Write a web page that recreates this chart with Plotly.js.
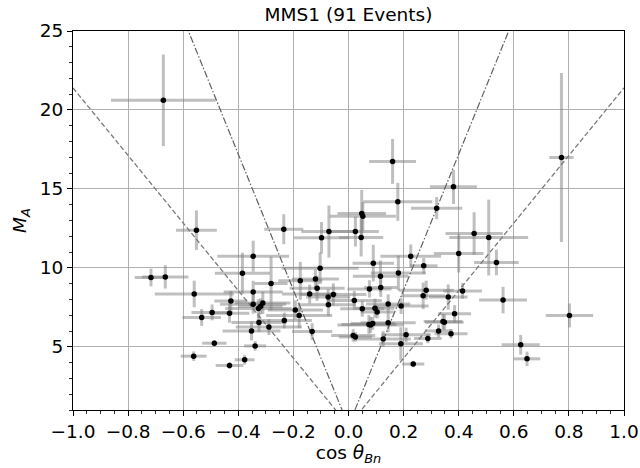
<!DOCTYPE html>
<html>
<head>
<meta charset="utf-8">
<script src="https://cdn.plot.ly/plotly-3.0.1.min.js"></script>
<style>html,body{margin:0;padding:0;background:#fff;}#chart{width:640px;height:468px;}</style>
</head>
<body>
<div id="chart"></div>
<script>
// cos(theta_Bn) of each event
const cosTheta = [-0.672,-0.717,-0.665,-0.562,-0.560,-0.552,-0.533,-0.495,-0.487,-0.432,
  -0.432,-0.427,-0.385,-0.377,-0.352,-0.346,-0.346,-0.346,-0.339,-0.327,
  -0.325,-0.319,-0.311,-0.289,-0.281,-0.235,-0.233,-0.193,-0.179,-0.175,
  -0.141,-0.132,-0.120,-0.114,-0.103,-0.098,-0.074,-0.073,-0.071,-0.055,
  0.017,0.021,0.025,0.025,0.046,0.048,0.050,0.052,0.074,0.076,
  0.080,0.088,0.090,0.096,0.104,0.116,0.117,0.126,0.144,0.144,
  0.160,0.179,0.181,0.190,0.191,0.209,0.226,0.235,0.271,0.273,
  0.282,0.288,0.320,0.327,0.343,0.348,0.362,0.372,0.381,0.385,
  0.400,0.414,0.456,0.509,0.537,0.561,0.625,0.648,0.773,0.802];
// Alfven Mach number of each event
const machA = [20.61,9.39,9.43,4.41,8.35,12.39,6.86,7.18,5.23,7.13,
  3.82,7.91,9.66,4.18,6.01,10.74,8.48,7.70,5.06,7.42,
  6.54,7.57,7.78,6.25,9.01,12.45,6.67,7.34,6.99,9.18,
  8.34,5.97,9.30,8.71,9.98,11.90,8.16,7.66,12.30,8.32,
  5.72,7.94,5.63,12.30,11.92,13.44,7.41,13.27,6.42,8.67,
  6.39,6.48,10.30,7.45,7.20,9.47,8.76,5.49,7.72,6.52,
  16.74,14.18,9.68,5.19,7.58,5.76,10.74,3.91,8.23,10.13,
  8.59,5.53,13.78,6.01,6.60,6.56,8.15,5.83,15.13,7.09,
  10.91,8.54,12.18,11.92,10.34,7.96,5.13,4.24,16.99,6.99];
// uncertainty of cos(theta_Bn)
const cosErr = [0.19,0.059,0.084,0.047,0.143,0.074,0.07,0.075,0.044,0.072,
  0.05,0.06,0.10,0.036,0.105,0.13,0.107,0.12,0.04,0.12,
  0.1,0.08,0.1,0.12,0.06,0.071,0.1,0.1,0.12,0.08,
  0.1,0.073,0.085,0.1,0.14,0.1,0.08,0.1,0.10,0.12,
  0.08,0.1,0.06,0.085,0.08,0.088,0.08,0.12,0.1,0.08,
  0.12,0.08,0.075,0.07,0.06,0.1,0.06,0.1,0.08,0.1,
  0.085,0.125,0.1,0.08,0.1,0.09,0.11,0.04,0.08,0.05,
  0.1,0.05,0.093,0.05,0.07,0.07,0.07,0.06,0.085,0.06,
  0.09,0.07,0.104,0.143,0.081,0.087,0.069,0.048,0.044,0.086];
// uncertainty of M_A
const machErr = [2.9,0.56,0.74,0.3,0.84,1.25,0.53,0.5,0.2,0.6,
  0.2,0.63,1.3,0.3,0.6,0.98,0.7,0.6,0.3,0.6,
  0.6,0.5,0.7,0.5,1.7,0.95,0.5,0.6,0.8,1.2,
  0.6,0.53,0.6,0.8,1.0,1.0,0.5,0.7,1.65,0.7,
  0.4,0.6,0.3,0.95,1.2,1.5,0.5,0.9,0.6,0.55,
  0.5,0.4,1.16,0.6,0.4,1.0,0.6,0.5,0.6,0.6,
  1.42,1.2,1.1,1.05,0.5,0.45,0.74,0.2,0.84,0.5,
  0.6,0.3,0.7,0.4,0.5,0.5,0.8,0.3,1.08,0.55,
  1.2,0.5,1.34,2.4,0.81,0.84,0.62,0.46,5.35,0.76];

// reference lines: M_A = slope * |cos theta|
const refX = [-1, 0, 1];
const dashedSlope = 21.4;
const dashDotSlope = 43;

const font = {family: 'DejaVu Sans', size: 18.5, color: '#000'};

const traces = [
  {x: cosTheta, y: machA, mode: 'markers', type: 'scatter',
   marker: {size: 5.5, color: 'rgba(0,0,0,0)'},
   error_x: {type: 'data', array: cosErr, color: 'rgba(128,128,128,0.5)', thickness: 3, width: 0},
   error_y: {type: 'data', array: machErr, color: 'rgba(128,128,128,0.5)', thickness: 3, width: 0},
   hoverinfo: 'skip'},
  {x: refX, y: refX.map(v => dashedSlope * Math.abs(v)), mode: 'lines', type: 'scatter',
   line: {color: '#7a7a7a', width: 1.3, dash: '5px,2.5px'}},
  {x: refX, y: refX.map(v => dashDotSlope * Math.abs(v)), mode: 'lines', type: 'scatter',
   line: {color: '#606060', width: 1.2, dash: '7px,2px,1.5px,2px'}},
  {x: cosTheta, y: machA, mode: 'markers', type: 'scatter',
   marker: {size: 5.5, color: '#000'}}
];

const layout = {
  width: 640, height: 468,
  margin: {l: 72.5, r: 16.3, t: 30.7, b: 58.1},
  paper_bgcolor: '#fff', plot_bgcolor: '#fff',
  showlegend: false,
  font: font,
  title: {text: 'MMS1 (91 Events)', font: font, x: 0.5, xref: 'paper', y: 1 - 15/468, yref: 'container', yanchor: 'middle'},
  xaxis: {
    range: [-1, 1], dtick: 0.2, tick0: -1, tickformat: '.1f',
    showgrid: true, gridcolor: '#b0b0b0', gridwidth: 1,
    zeroline: false, showline: true, linecolor: '#000', linewidth: 1, mirror: true,
    ticks: 'outside', ticklen: 5, tickwidth: 1, tickcolor: '#000',
    minor: {ticks: 'outside', dtick: 0.05, ticklen: 3, tickwidth: 0.8, tickcolor: '#000', showgrid: false},
    tickfont: font,
    title: {text: 'cos <i>θ</i><sub><i>Bn</i></sub>', font: font, standoff: 4}
  },
  yaxis: {
    range: [1, 25], dtick: 5, tick0: 0,
    showgrid: true, gridcolor: '#b0b0b0', gridwidth: 1,
    zeroline: false, showline: true, linecolor: '#000', linewidth: 1, mirror: true,
    ticks: 'outside', ticklen: 5, tickwidth: 1, tickcolor: '#000',
    minor: {ticks: 'outside', dtick: 1, ticklen: 3, tickwidth: 0.8, tickcolor: '#000', showgrid: false},
    tickfont: font,
    title: {text: '<i>M</i><sub><i>A</i></sub>', font: font, standoff: 8}
  }
};

Plotly.newPlot('chart', traces, layout, {displayModeBar: false, staticPlot: true});
</script>
</body>
</html>
